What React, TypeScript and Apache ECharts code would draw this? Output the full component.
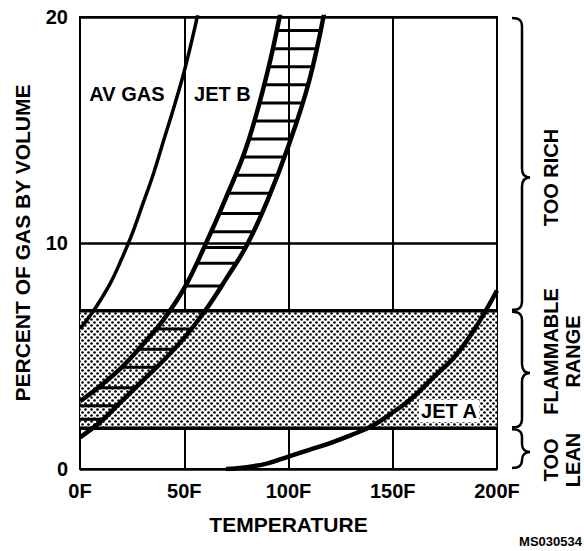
import React, { useEffect, useRef } from "react";
import * as echarts from "echarts";

// ---- data ----
const xTicks = [0, 50, 100, 150, 200];
const xTickLabels = ["0F", "50F", "100F", "150F", "200F"];
const yTicks = [0, 10, 20];
const yTickLabels = ["0", "10", "20"];

// percent of gas by volume vs temperature (F)
const avGas: number[][] = [
  [0, 6.2], [5, 6.8], [10, 7.5], [15, 8.3], [20, 9.3], [25, 10.4], [30, 11.7],
  [35, 13.0], [40, 14.5], [45, 16.0], [50, 17.6], [55, 19.5], [58, 20.8],
];
const jetBUpper: number[][] = [
  [0, 3.0], [10, 3.7], [20, 4.5], [30, 5.5], [40, 6.6], [50, 8.0], [60, 9.9],
  [70, 12.0], [80, 14.3], [90, 17.6], [97, 20.6],
];
const jetBLower: number[][] = [
  [0, 1.4], [10, 2.1], [20, 3.0], [30, 3.9], [40, 4.8], [50, 5.8], [60, 7.0],
  [70, 8.4], [80, 9.9], [90, 11.9], [100, 14.3], [110, 17.2], [118, 20.6],
];
const jetA: number[][] = [
  [70, 0], [80, 0.08], [90, 0.25], [100, 0.55], [110, 0.85], [120, 1.15], [130, 1.5],
  [140, 1.9], [150, 2.5], [160, 3.2], [170, 4.1], [180, 5.0], [190, 6.3], [200, 7.9],
];
const jetBHatchLevels = [
  19.4, 18.6, 17.8, 17.0, 16.2, 15.4, 14.6, 13.8, 13.0, 12.2, 11.3, 10.5,
  9.8, 9.1, 8.1, 7.0, 6.2, 5.3, 4.5, 3.6, 2.8, 2.2,
];
const flammableLow = 1.8;
const flammableHigh = 7;

const bandNames = ["TOO RICH", "FLAMMABLE\nRANGE", "TOO\nLEAN"];
const bandFrom = [7, 1.8, 0];
const bandTo = [20, 7, 1.8];
const bandTip = [12.9, 4.25, 0.75];
const bandLabelAt = [12.9, 5.2, 0.4];

const fuelNames = ["AV GAS", "JET B", "JET A"];
const fuelLabelT = [22.5, 68.3, 177];
const fuelLabelV = [16.6, 16.6, 2.57];

const FONT = '"Liberation Sans", Arial, Helvetica, sans-serif';

function tAt(curve: number[][], v: number): number {
  if (v <= curve[0][1]) return curve[0][0];
  for (let i = 0; i < curve.length - 1; i++) {
    const a = curve[i], b = curve[i + 1];
    if (v >= a[1] && v <= b[1]) return a[0] + ((v - a[1]) / (b[1] - a[1])) * (b[0] - a[0]);
  }
  return curve[curve.length - 1][0];
}

function makeDots(): HTMLCanvasElement {
  const c = document.createElement("canvas");
  c.width = 6;
  c.height = 6;
  const ctx = c.getContext("2d")!;
  ctx.fillStyle = "#fff";
  ctx.fillRect(0, 0, 6, 6);
  ctx.fillStyle = "#000";
  [[1.5, 1.5], [4.5, 4.5]].forEach(([x, y]) => {
    ctx.beginPath();
    ctx.arc(x, y, 1.35, 0, Math.PI * 2);
    ctx.fill();
  });
  return c;
}

export default function App() {
  const ref = useRef<HTMLDivElement>(null);
  useEffect(() => {
    if (!ref.current) return;
    const chart = echarts.init(ref.current, undefined, { renderer: "svg" });
    const dots = makeDots();
    const lineSeries = (name: string, data: number[][], width: number) => ({
      name,
      type: "line",
      data,
      smooth: 0.4,
      symbol: "none",
      showSymbol: false,
      clip: true,
      z: 4,
      lineStyle: { color: "#000", width },
      silent: true,
    });
    const option: any = {
      animation: false,
      backgroundColor: "#fff",
      grid: { left: 80, top: 17, right: 87, bottom: 82, show: true, borderColor: "#000", borderWidth: 2 },
      xAxis: {
        type: "value",
        min: 0,
        max: 200,
        interval: 50,
        axisLine: { show: false },
        axisTick: { show: false },
        splitLine: { show: true, lineStyle: { color: "#000", width: 2 } },
        axisLabel: {
          formatter: (v: number) => xTickLabels[xTicks.indexOf(v)] ?? "",
          color: "#000",
          fontFamily: FONT,
          fontWeight: "bold",
          fontSize: 20,
          margin: 12,
        },
        name: "TEMPERATURE",
        nameLocation: "middle",
        nameGap: 45,
        nameTextStyle: { color: "#000", fontFamily: FONT, fontWeight: "bold", fontSize: 21 },
      },
      yAxis: {
        type: "value",
        min: 0,
        max: 20,
        interval: 10,
        axisLine: { show: false },
        axisTick: { show: false },
        splitLine: { show: true, lineStyle: { color: "#000", width: 2.5 } },
        axisLabel: {
          formatter: (v: number) => yTickLabels[yTicks.indexOf(v)] ?? "",
          color: "#000",
          fontFamily: FONT,
          fontWeight: "bold",
          fontSize: 20,
          margin: 12,
        },
        name: "PERCENT OF GAS BY VOLUME",
        nameLocation: "middle",
        nameGap: 47,
        nameTextStyle: { color: "#000", fontFamily: FONT, fontWeight: "bold", fontSize: 21 },
      },
      series: [
        {
          type: "custom",
          z: 1,
          silent: true,
          clip: true,
          encode: { x: [0, 2], y: [1, 3] },
          data: [[0, flammableLow, 200, flammableHigh]],
          renderItem: (params: any, api: any) => {
            const p0 = api.coord([api.value(0), api.value(3)]);
            const p1 = api.coord([api.value(2), api.value(1)]);
            return {
              type: "group",
              children: [
                {
                  type: "rect",
                  shape: { x: p0[0], y: p0[1], width: p1[0] - p0[0], height: p1[1] - p0[1] },
                  style: { fill: { image: dots, repeat: "repeat" } as any, stroke: "none" },
                },
                {
                  type: "line",
                  shape: { x1: p0[0], y1: p0[1], x2: p1[0], y2: p0[1] },
                  style: { stroke: "#000", lineWidth: 3.5 },
                },
                {
                  type: "line",
                  shape: { x1: p0[0], y1: p1[1], x2: p1[0], y2: p1[1] },
                  style: { stroke: "#000", lineWidth: 3.5 },
                },
              ],
            };
          },
        },
        lineSeries("AV GAS", avGas, 3.5),
        lineSeries("JET B upper", jetBUpper, 4.5),
        lineSeries("JET B lower", jetBLower, 4.5),
        lineSeries("JET A", jetA, 4.5),
        {
          type: "custom",
          z: 3,
          silent: true,
          encode: { x: 0, y: 1 },
          data: jetBHatchLevels.map((v) => [tAt(jetBUpper, v), v]),
          renderItem: (params: any, api: any) => {
            const v = api.value(1);
            const a = api.coord([tAt(jetBUpper, v), v]);
            const b = api.coord([tAt(jetBLower, v), v]);
            return {
              type: "line",
              shape: { x1: a[0], y1: a[1], x2: b[0], y2: b[1] },
              style: { stroke: "#000", lineWidth: 3 },
            };
          },
        },
        {
          type: "custom",
          z: 6,
          silent: true,
          encode: { x: 0, y: 1 },
          data: fuelNames.map((n, i) => [fuelLabelT[i], fuelLabelV[i]]),
          renderItem: (params: any, api: any) => {
            const i = params.dataIndex;
            const p = api.coord([api.value(0), api.value(1)]);
            return {
              type: "text",
              x: p[0],
              y: p[1],
              style: {
                text: fuelNames[i],
                font: `bold 20px ${FONT}`,
                fill: "#000",
                align: "center",
                verticalAlign: "middle",
                backgroundColor: i === 2 ? "#fff" : "transparent",
                padding: [1, 2],
              },
            };
          },
        },
        {
          type: "custom",
          z: 6,
          silent: true,
          clip: false,
          encode: { x: 0, y: [1, 2] },
          data: bandNames.map((n, i) => [200, bandFrom[i], bandTo[i], bandTip[i], bandLabelAt[i]]),
          renderItem: (params: any, api: any) => {
            const i = params.dataIndex;
            const top = api.coord([200, api.value(2)]);
            const bot = api.coord([200, api.value(1)]);
            const tip = api.coord([200, api.value(3)]);
            const lab = api.coord([200, api.value(4)]);
            const y0 = top[1] + 1;
            const y1 = bot[1] - 1;
            const ym = tip[1];
            const x0 = top[0] + 15;
            const xs = top[0] + 25;
            const xt = top[0] + 33;
            const r = Math.min(9, (ym - y0) / 2, (y1 - ym) / 2);
            const d =
              `M${x0},${y0} C${x0 + 7},${y0} ${xs},${y0 + 2} ${xs},${y0 + r} ` +
              `L${xs},${ym - r} C${xs},${ym - 3} ${xs + 3},${ym} ${xt},${ym} ` +
              `C${xs + 3},${ym} ${xs},${ym + 3} ${xs},${ym + r} ` +
              `L${xs},${y1 - r} C${xs},${y1 - 2} ${x0 + 7},${y1} ${x0},${y1}`;
            const lines = bandNames[i].split("\n").length;
            return {
              type: "group",
              children: [
                {
                  type: "path",
                  shape: { pathData: d },
                  style: { stroke: "#000", lineWidth: 2.5, fill: "none" },
                },
                {
                  type: "text",
                  x: top[0] + 53.5 + (lines - 1) * 11,
                  y: lab[1],
                  rotation: Math.PI / 2,
                  style: {
                    text: bandNames[i],
                    font: `bold 20px ${FONT}`,
                    fill: "#000",
                    align: "center",
                    verticalAlign: "middle",
                    lineHeight: 22,
                  },
                },
              ],
            };
          },
        },
      ],
      graphic: [
        {
          type: "text",
          right: 2,
          top: 535,
          style: { text: "MS030534", font: `bold 13px ${FONT}`, fill: "#000" },
        },
      ],
    };
    chart.setOption(option);
    return () => chart.dispose();
  }, []);
  return (
    <div
      ref={ref}
      style={{ position: "fixed", left: 0, top: 0, width: 584, height: 551, background: "#fff" }}
    />
  );
}
